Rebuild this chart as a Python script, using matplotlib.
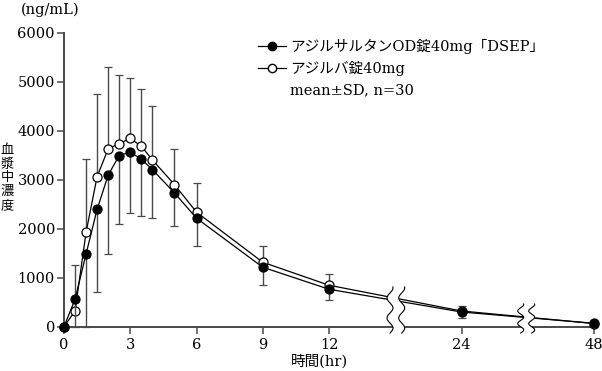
import numpy as np
import matplotlib
matplotlib.use("Agg")
import matplotlib.pyplot as plt
from matplotlib.lines import Line2D

plt.rcParams['font.family'] = ['DejaVu Serif', 'Noto Sans CJK JP']

# data
times = [0, 0.5, 1, 1.5, 2, 2.5, 3, 3.5, 4, 5, 6, 9, 12, 24, 48]
od_mean = [0, 560, 1487, 2400, 3096, 3497, 3566, 3423, 3211, 2734, 2217, 1215, 765, 300, 69]
od_sd = [0, 560, 1487, 1690, 1609, 1403, 1235, 1165, 994, 669, 567, 362, 225, 116, 0]
ref_mean = [0, 321, 1930, 3067, 3634, 3742, 3845, 3689, 3409, 2904, 2340, 1317, 847, 321, 65]
ref_sd = [0, 947, 1493, 1686, 1663, 1399, 1241, 1166, 1090, 736, 593, 340, 225, 102, 0]
xticks = [0, 3, 6, 9, 12, 24, 48]
yticks = [0, 1000, 2000, 3000, 4000, 5000, 6000]
label_od = "アジルサルタンOD錠40mg「DSEP」"
label_ref = "アジルバ錠40mg"
label_note = "mean±SD, n=30"


# compressed time axis: 0-12 full, 12-24 half, 24-48 quarter
def fwd(x):
    x = np.asarray(x, dtype=float)
    return np.where(x <= 12, x, np.where(x <= 24, 12 + (x - 12) / 2, 18 + (x - 24) / 4))


def inv(u):
    u = np.asarray(u, dtype=float)
    return np.where(u <= 12, u, np.where(u <= 18, 12 + (u - 12) * 2, 24 + (u - 18) * 4))


fig = plt.figure(figsize=(6.02, 3.71), dpi=100)
ax = fig.add_axes([64 / 602, 1 - 326.7 / 371, 530 / 602, 293.7 / 371])
ax.set_xscale('function', functions=(fwd, inv))

gray = '#4a4a4a'
zero = np.zeros(len(times))

# open: upper error bars, filled: lower error bars
ax.errorbar(times, ref_mean, yerr=[zero, ref_sd], color='black', ecolor=gray,
            elinewidth=1.0, capsize=3, capthick=1.0, lw=0.9, marker='o', ms=6.5,
            mfc='white', mec='black', mew=0.9, zorder=3, clip_on=False)
ax.errorbar(times, od_mean, yerr=[od_sd, zero], color='black', ecolor=gray,
            elinewidth=1.0, capsize=3, capthick=1.0, lw=0.9, marker='o', ms=6.5,
            mfc='black', mec='black', mew=0.9, zorder=3.1, clip_on=False)

ax.set_xlim(0, 48)
ax.set_ylim(0, 6000)
ax.set_xticks(xticks)
ax.set_xticklabels([str(t) for t in xticks])
ax.set_yticks(yticks)
ax.set_yticklabels([str(t) for t in yticks])
ax.tick_params(axis='both', direction='out', length=5, width=1.1, color=gray,
               labelsize=10.5)
ax.tick_params(axis='y', pad=1.5)
ax.tick_params(axis='x', pad=3)
for s in ['top', 'right']:
    ax.spines[s].set_visible(False)
for s in ['left', 'bottom']:
    ax.spines[s].set_color(gray)
    ax.spines[s].set_linewidth(1.4)

# axis breaks
px = 530 / 24.0
for xl, xr, ytop in [(390, 401.7, 812), (520.7, 531.7, 464)]:
    ul = (xl - 64) / px
    ur = (xr - 64) / px
    yy = np.linspace(-130, ytop, 200)
    wave = 3.0 / px * np.sin(2 * np.pi * 2.3 * (yy - yy[0]) / (yy[-1] - yy[0]))
    left = inv(ul + wave)
    right = inv(ur + wave)
    ax.fill_betweenx(yy, left, right, color='white', zorder=5, clip_on=False, lw=0)
    ax.plot(left, yy, color='black', lw=0.8, zorder=6, clip_on=False)
    ax.plot(right, yy, color='black', lw=0.8, zorder=6, clip_on=False)

# legend
h1 = Line2D([], [], color='black', lw=0.9, marker='o', ms=6, mfc='black', mec='black')
h2 = Line2D([], [], color='black', lw=0.9, marker='o', ms=6, mfc='white', mec='black')
h3 = Line2D([], [], linestyle='none')
ax.legend([h1, h2, h3], [label_od, label_ref, label_note], loc='upper left',
          bbox_to_anchor=(258 / 602, 1 - 39 / 371), bbox_transform=fig.transFigure,
          frameon=False, fontsize=10.5, handlelength=1.9, handletextpad=0.3,
          borderpad=0, borderaxespad=0, labelspacing=0.5)

fig.text(21 / 602, 1 - 10 / 371, "(ng/mL)", fontsize=10.5, ha='left', va='center')
fig.text(7.5 / 602, 1 - 178 / 371, "\n".join("血漿中濃度"), fontsize=9.5,
         family=['Noto Sans CJK JP'], ha='center', va='center', linespacing=1.07)
fig.text(319 / 602, 1 - 361 / 371, "時間(hr)", fontsize=10.5, ha='center', va='center')

fig.savefig("out.png", dpi=100)
